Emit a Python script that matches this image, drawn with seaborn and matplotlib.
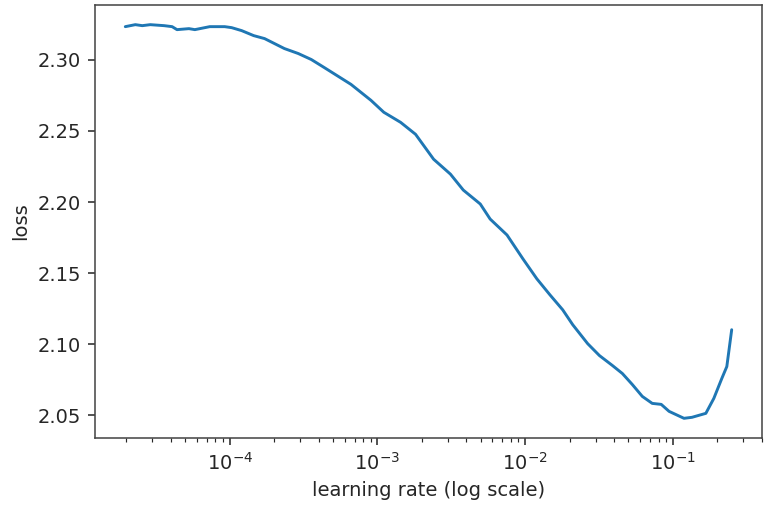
import seaborn as sns
import numpy as np
import pandas as pd
import matplotlib
matplotlib.use("Agg")
import matplotlib.pyplot as plt

# learning rate (as log10) and smoothed loss
log_lr = [
    -4.707, -4.639, -4.592, -4.538, -4.444, -4.390, -4.357, -4.276, -4.236,
    -4.135, -4.034, -3.987, -3.919, -3.838, -3.764, -3.630, -3.536, -3.448,
    -3.361, -3.179, -3.044, -2.957, -2.843, -2.742, -2.620, -2.506, -2.419,
    -2.304, -2.237, -2.123, -2.015, -1.921, -1.833, -1.746, -1.678, -1.577,
    -1.497, -1.409, -1.342, -1.275, -1.207, -1.140, -1.079, -1.026, -0.925,
    -0.871, -0.777, -0.723, -0.669, -0.635, -0.602,
]
loss = [
    2.3233, 2.3247, 2.3240, 2.3247, 2.3240, 2.3233, 2.3212, 2.3219, 2.3212,
    2.3233, 2.3233, 2.3226, 2.3205, 2.3170, 2.3149, 2.3079, 2.3044, 2.3002,
    2.2946, 2.2827, 2.2715, 2.2631, 2.2560, 2.2476, 2.2301, 2.2196, 2.2084,
    2.1986, 2.1880, 2.1768, 2.1600, 2.1460, 2.1348, 2.1242, 2.1137, 2.1004,
    2.0920, 2.0850, 2.0794, 2.0717, 2.0633, 2.0584, 2.0577, 2.0528, 2.0479,
    2.0486, 2.0514, 2.0619, 2.0759, 2.0843, 2.1102,
]

df = pd.DataFrame({"lr": np.power(10.0, log_lr), "loss": loss})

DPI = 140


def plot_lr_find():
    """Loss vs learning rate from the lr finder."""
    sns.set_style("ticks")
    plt.rcParams["font.family"] = ["DejaVu Sans"]
    fig = plt.figure(figsize=(764 / DPI, 508 / DPI), dpi=DPI)
    ax = fig.add_axes([0.1243, 0.1378, 0.8731, 0.8524])
    sns.lineplot(data=df, x="lr", y="loss", ax=ax, color="#1f77b4",
                 linewidth=1.5, estimator=None, sort=False)
    ax.set_xscale("log")
    ax.set_xlabel("learning rate (log scale)")
    ax.set_ylabel("loss")
    for s in ax.spines.values():
        s.set_color("#444444")
    fig.savefig("out.png", dpi=DPI)


if __name__ == "__main__":
    plot_lr_find()
